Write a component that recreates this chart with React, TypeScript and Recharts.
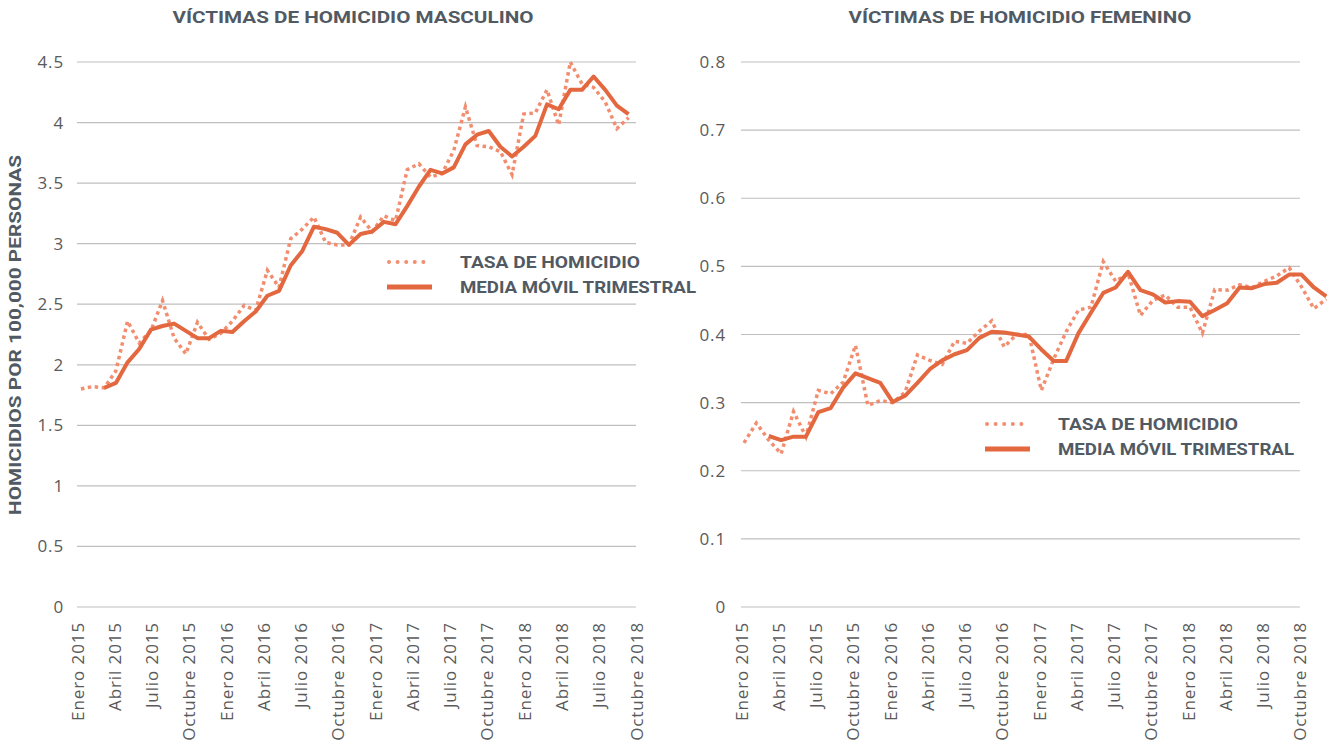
import { CartesianGrid, Line, LineChart, XAxis, YAxis } from "recharts";

// monthly series, Enero 2015 .. Diciembre 2018 (48 months)
const masculinoTasa = [
  1.8, 1.82, 1.81, 1.95, 2.36, 2.18, 2.28, 2.53, 2.22, 2.09, 2.35, 2.21,
  2.26, 2.36, 2.49, 2.45, 2.78, 2.64, 3.04, 3.12, 3.22, 3.01, 2.99, 2.99,
  3.22, 3.1, 3.23, 3.19, 3.61, 3.66, 3.55, 3.58, 3.77, 4.13, 3.81, 3.8,
  3.76, 3.57, 4.07, 4.08, 4.27, 3.98, 4.5, 4.32, 4.29, 4.17, 3.95, 4.04,
];
const masculinoMedia = [
  null, null, 1.81, 1.85, 2.02, 2.13, 2.29, 2.32, 2.34, 2.28, 2.22, 2.22,
  2.28, 2.27, 2.36, 2.44, 2.57, 2.61, 2.82, 2.94, 3.14, 3.12, 3.09, 2.99,
  3.08, 3.1, 3.18, 3.16, 3.31, 3.47, 3.61, 3.58, 3.63, 3.82, 3.9, 3.93,
  3.8, 3.72, 3.8, 3.89, 4.15, 4.11, 4.27, 4.27, 4.38, 4.27, 4.14, 4.07,
];
const femeninoTasa = [
  0.241, 0.27, 0.245, 0.225, 0.287, 0.25, 0.318, 0.313, 0.33, 0.384, 0.296, 0.303,
  0.3, 0.315, 0.37, 0.362, 0.356, 0.39, 0.387, 0.405, 0.42, 0.382, 0.4, 0.4,
  0.318, 0.364, 0.404, 0.436, 0.44, 0.507, 0.478, 0.49, 0.428, 0.45, 0.458, 0.44,
  0.44, 0.402, 0.466, 0.465, 0.473, 0.469, 0.478, 0.486, 0.498, 0.47, 0.438, 0.452,
];
const femeninoMedia = [
  null, null, 0.251, 0.245, 0.25, 0.25, 0.286, 0.292, 0.322, 0.343, 0.336, 0.329,
  0.301, 0.31, 0.329, 0.349, 0.362, 0.371, 0.377, 0.395, 0.404, 0.403, 0.4, 0.397,
  0.378, 0.361, 0.361, 0.402, 0.432, 0.461, 0.469, 0.492, 0.465, 0.459, 0.447, 0.449,
  0.448, 0.427, 0.436, 0.446, 0.469, 0.468, 0.474, 0.476, 0.488, 0.488, 0.469, 0.456,
];

const tickLabels = [
  "Enero 2015", "Abril 2015", "Julio 2015", "Octubre 2015",
  "Enero 2016", "Abril 2016", "Julio 2016", "Octubre 2016",
  "Enero 2017", "Abril 2017", "Julio 2017", "Octubre 2017",
  "Enero 2018", "Abril 2018", "Julio 2018", "Octubre 2018",
];

const masculinoTicks = [0, 0.5, 1, 1.5, 2, 2.5, 3, 3.5, 4, 4.5];
const femeninoTicks = [0, 0.1, 0.2, 0.3, 0.4, 0.5, 0.6, 0.7, 0.8];

const DOTTED = "#F28D6F";
const SOLID = "#E4683F";
const GRID = "#BFBFBF";
const TICK = "#5A5A5A";
const HEAD = "#515A63";
const FONT = "'Open Sans', sans-serif";
const BOLD = "Roboto, sans-serif";

function toRows(tasa: number[], media: (number | null)[]) {
  return tasa.map((v, i) => ({ i, tasa: v, media: media[i] }));
}

type PanelProps = {
  left: number;
  width: number;
  yWidth: number;
  marginRight: number;
  rows: { i: number; tasa: number; media: number | null }[];
  xDomain: [number, number];
  labelEnd: number; // index units where the last label / grid ends
  gridWidth?: number;
  yDomain: [number, number];
  yTicks: number[];
  tickMargin: number;
};

function Panel(p: PanelProps) {
  const step = (p.labelEnd - p.xDomain[0]) / (tickLabels.length - 1);
  const xTicks = tickLabels.map((_, k) => p.xDomain[0] + k * step);

  const XTick = (props: any) => {
    const { x, y, payload } = props;
    const k = Math.round((payload.value - p.xDomain[0]) / step);
    return (
      <text
        transform={`translate(${x},${y + 15}) rotate(-90)`}
        textAnchor="end"
        dominantBaseline="central"
        fill={TICK}
        fontSize={17}
        fontFamily={FONT}
        letterSpacing={0.9}
      >
        {tickLabels[k]}
      </text>
    );
  };

  return (
    <div style={{ position: "absolute", left: p.left, top: 0 }}>
      <LineChart
        width={p.width}
        height={745}
        data={p.rows}
        margin={{ top: 62, right: p.marginRight, bottom: 0, left: 0 }}
      >
        <CartesianGrid
          vertical={false}
          stroke={GRID}
          strokeWidth={1.2}
          x={p.yWidth}
          y={62}
          width={p.gridWidth ?? p.width - p.yWidth - p.marginRight}
          height={545}
        />
        <XAxis
          type="number"
          dataKey="i"
          domain={p.xDomain}
          ticks={xTicks}
          interval={0}
          height={138}
          tickSize={0}
          tickMargin={0}
          axisLine={false}
          tickLine={false}
          tick={<XTick />}
        />
        <YAxis
          domain={p.yDomain}
          ticks={p.yTicks}
          width={p.yWidth}
          tickSize={0}
          tickMargin={p.tickMargin}
          axisLine={false}
          tickLine={false}
          interval={0}
          tick={{ fill: TICK, fontSize: 17, fontFamily: FONT, letterSpacing: 0.9 }}
        />
        <Line
          type="linear"
          dataKey="tasa"
          stroke={DOTTED}
          strokeWidth={3.5}
          strokeDasharray="3.5 3.5"
          dot={false}
          isAnimationActive={false}
        />
        <Line
          type="linear"
          dataKey="media"
          stroke={SOLID}
          strokeWidth={4}
          strokeLinejoin="round"
          dot={false}
          isAnimationActive={false}
        />
      </LineChart>
    </div>
  );
}

function LegendBlock({ x, y }: { x: number; y: number }) {
  const txt = {
    fill: HEAD,
    fontSize: 16,
    fontFamily: BOLD,
    fontWeight: 700,
  } as const;
  return (
    <g>
      <line x1={x + 2} x2={x + 45} y1={y} y2={y} stroke={DOTTED} strokeWidth={4} strokeDasharray="0 8.6" strokeLinecap="round" />
      <text x={x + 73} y={y} dominantBaseline="central" textLength={180} lengthAdjust="spacingAndGlyphs" {...txt}>
        TASA DE HOMICIDIO
      </text>
      <line x1={x} x2={x + 45} y1={y + 25} y2={y + 25} stroke={SOLID} strokeWidth={5} />
      <text x={x + 73} y={y + 25} dominantBaseline="central" textLength={236} lengthAdjust="spacingAndGlyphs" {...txt}>
        MEDIA MÓVIL TRIMESTRAL
      </text>
    </g>
  );
}

export default function App() {
  const titleStyle = {
    fill: HEAD,
    fontSize: 17,
    fontFamily: BOLD,
    fontWeight: 700,
  } as const;

  return (
    <div
      style={{
        position: "absolute",
        left: 0,
        top: 0,
        width: 1335,
        height: 745,
        background: "#fff",
        overflow: "hidden",
      }}
    >
      <Panel
        left={0}
        width={670}
        yWidth={77}
        marginRight={34}
        rows={toRows(masculinoTasa, masculinoMedia)}
        xDomain={[-0.34, 47.64]}
        labelEnd={47.64}
        yDomain={[0, 4.5]}
        yTicks={masculinoTicks}
        tickMargin={13}
      />
      <Panel
        left={670}
        width={665}
        yWidth={71}
        marginRight={5}
        rows={toRows(femeninoTasa, femeninoMedia)}
        xDomain={[-0.24, 47.3]}
        labelEnd={44.87}
        gridWidth={559}
        yDomain={[0, 0.8]}
        yTicks={femeninoTicks}
        tickMargin={15}
      />
      <svg
        width={1335}
        height={745}
        style={{ position: "absolute", left: 0, top: 0, pointerEvents: "none" }}
      >
        <text x={353} y={17} textAnchor="middle" dominantBaseline="central" textLength={361} lengthAdjust="spacingAndGlyphs" {...titleStyle}>
          VÍCTIMAS DE HOMICIDIO MASCULINO
        </text>
        <text x={1020} y={17} textAnchor="middle" dominantBaseline="central" textLength={343} lengthAdjust="spacingAndGlyphs" {...titleStyle}>
          VÍCTIMAS DE HOMICIDIO FEMENINO
        </text>
        <text
          transform="translate(15,335) rotate(-90)"
          textAnchor="middle"
          dominantBaseline="central"
          textLength={360}
          lengthAdjust="spacingAndGlyphs"
          {...titleStyle}
        >
          HOMICIDIOS POR 100,000 PERSONAS
        </text>
        <LegendBlock x={387} y={262} />
        <LegendBlock x={985} y={424} />
      </svg>
    </div>
  );
}
